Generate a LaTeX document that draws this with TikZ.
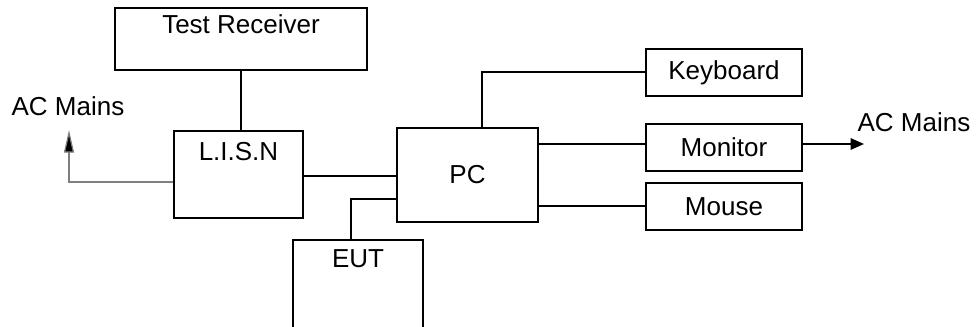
\documentclass[tikz,border=0pt]{standalone}
\usepackage{fontspec}
\setmainfont{Liberation Sans}
\usepackage{xcolor}
\usetikzlibrary{arrows.meta, positioning}
\definecolor{ink}{HTML}{000000}
\definecolor{ink3}{HTML}{7F7F7F}

\begin{document}
\begin{tikzpicture}[x=0.75pt, y=-0.75pt, font=\fontsize{19.5}{23}\selectfont,
          unit/.style={draw=ink, line width=1.5pt, inner sep=0pt, minimum height=35.25pt},
          wire/.style={draw=ink, line width=1.5pt},
          mains/.style={draw=ink3, line width=0.9pt, -{Triangle[length=17pt, width=7.5pt, fill=ink]}}]
        \useasboundingbox (0,0) rectangle (976,327);
        \node[unit, minimum width=189pt, minimum height=46.5pt,
          label={[anchor=north, inner sep=0pt, yshift=-5.5pt]north:Test Receiver}] (rx) at (241,39) {};
        \node[unit, minimum width=96.75pt, minimum height=65.25pt,
          label={[anchor=north, inner sep=0pt, yshift=-9pt]north:L.I.S.N}] (lisn) at (238.5,174.5) {};
        \node[unit, minimum width=105.75pt, minimum height=70.5pt] (pc) at (467.5,175) {PC};
        \node[inner sep=0pt, minimum width=97.5pt, minimum height=75pt,
          label={[anchor=north, inner sep=0pt, yshift=-7pt]north:EUT}] (eut) at (358,290) {};
        \node[unit, minimum width=117pt] (kb) at (724,72.5) {Keyboard};
        \node[unit, minimum width=117pt] (mon) at (724,147.5) {Monitor};
        \node[unit, minimum width=117pt] (mouse) at (724,206.5) {Mouse};
        \node (acl) at (68,106) {AC Mains};
        \node (acr) at (914,122) {AC Mains};
        \coordinate (acin) at (69,130);
        \coordinate (acout) at (864,144);
        % EUT box runs off the bottom edge
        \draw[wire] (eut.south west) -- (eut.north west) -- (eut.north east) -- (eut.south east);
        \draw[wire] (rx.south) -- (rx.south |- lisn.north);
        \draw[mains] ([yshift=-5.6pt]lisn.west) -| (acin);
        \draw[wire] ([yshift=-1pt]lisn.east) -- ([yshift=-1pt]lisn.east -| pc.west);
        \draw[wire] ([yshift=-18pt]pc.west) -| ([xshift=-5.25pt]eut.north);
        \draw[wire] ([xshift=10.9pt]pc.north) |- (kb.west);
        \draw[wire] (pc.east |- acout) -- (mon.west |- acout);
        \draw[wire] (pc.east |- mouse.west) -- (mouse.west);
        \draw[wire, -{Triangle[length=10pt, width=8.5pt]}] (mon.east |- acout) -- (acout);
      \end{tikzpicture}
\end{document}
